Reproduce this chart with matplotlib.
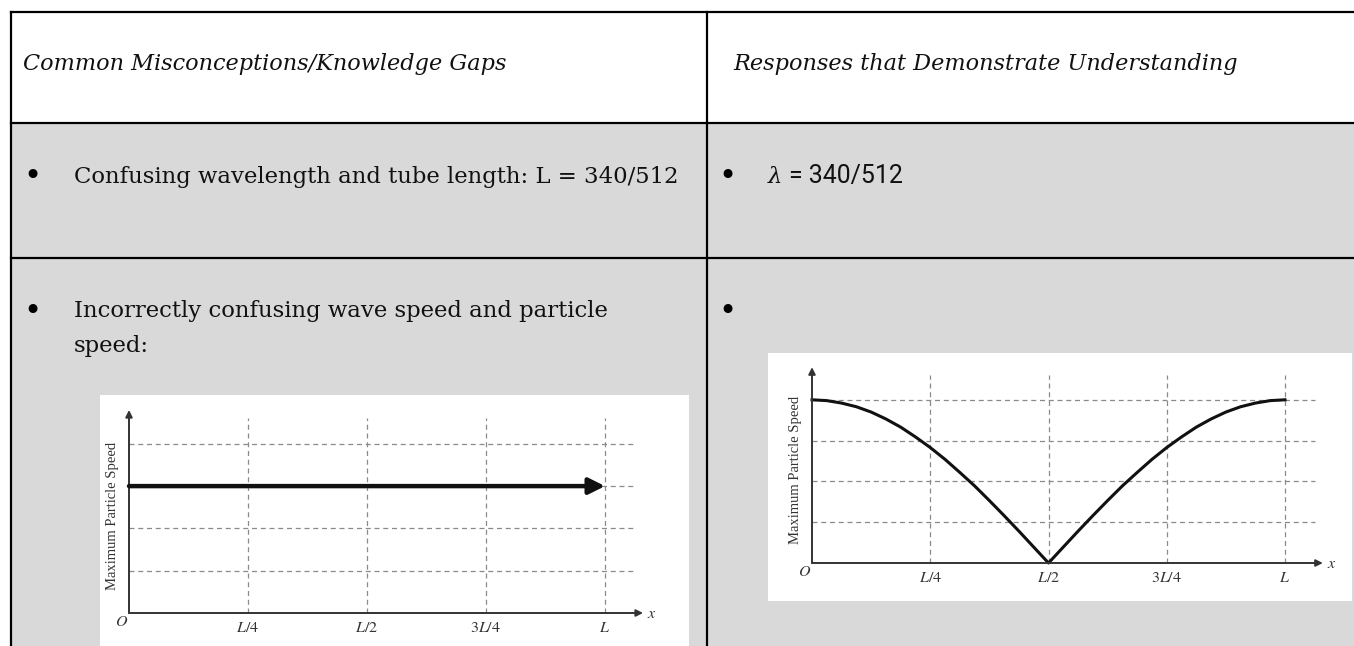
import matplotlib.pyplot as plt
from matplotlib.patches import Rectangle

plt.rcParams['mathtext.fontset'] = 'stix'

# table text
header_left = "Common Misconceptions/Knowledge Gaps"
header_right = "Responses that Demonstrate Understanding"
row2_left = "Confusing wavelength and tube length: L = 340/512"
row2_right = "= 340/512"
row3_left = ["Incorrectly confusing wave speed and particle", "speed:"]

# plot data (x in units of L, y in grid units)
grid_x = [0.25, 0.5, 0.75, 1.0]
grid_y = [1, 2, 3, 4]
tick_labels = ['$L/4$', '$L/2$', '$3L/4$', '$L$']
wrong_x = [0.0, 1.0]
wrong_y = [3.0, 3.0]
correct_x = [0, 0.03125, 0.0625, 0.09375, 0.125, 0.15625, 0.1875, 0.21875, 0.25,
             0.28125, 0.3125, 0.34375, 0.375, 0.40625, 0.4375, 0.46875, 0.5,
             0.53125, 0.5625, 0.59375, 0.625, 0.65625, 0.6875, 0.71875, 0.75,
             0.78125, 0.8125, 0.84375, 0.875, 0.90625, 0.9375, 0.96875, 1.0]
correct_y = [4.00, 3.98, 3.92, 3.83, 3.70, 3.53, 3.33, 3.09, 2.83,
             2.54, 2.22, 1.89, 1.53, 1.16, 0.78, 0.39, 0.00,
             0.39, 0.78, 1.16, 1.53, 1.89, 2.22, 2.54, 2.83,
             3.09, 3.33, 3.53, 3.70, 3.83, 3.92, 3.98, 4.00]

W, H = 1354, 646
fig = plt.figure(figsize=(13.54, 6.46), dpi=100)
fig.patch.set_facecolor('white')
renderer = fig.canvas.get_renderer()


def fx(x):
    return x / W


def fy(y):
    return 1 - y / H


def fit(t, target):
    w = t.get_window_extent(renderer).width
    t.set_fontsize(t.get_fontsize() * target / w)
    return t.get_fontsize()


# table background and lines
bg = Rectangle((fx(11), 0), fx(W) - fx(11), fy(123), transform=fig.transFigure,
               facecolor='#d9d9d9', edgecolor='none', zorder=-5)
fig.add_artist(bg)
lw = 1.6
for yy in [12, 123, 258]:
    fig.add_artist(plt.Line2D([fx(11), 1], [fy(yy), fy(yy)], color='black', lw=lw, zorder=5))
for xx in [11, 707]:
    fig.add_artist(plt.Line2D([fx(xx), fx(xx)], [0, fy(12)], color='black', lw=lw, zorder=5))

# header text
serif = 'DejaVu Serif'
t = fig.text(fx(23), fy(70), header_left, family=serif, style='italic', fontsize=15, color='#111')
hs = fit(t, 485)
t = fig.text(fx(733), fy(70), header_right, family=serif, style='italic', fontsize=hs, color='#111')

# row 2
t = fig.text(fx(74), fy(183), row2_left, family=serif, fontsize=15, color='#111')
bs = fit(t, 609)
for bx in [32, 727]:
    for by in [185, 320]:
        fig.text(fx(bx), fy(by), '•', family='DejaVu Sans', fontsize=bs * 1.35, ha='center', color='black')
fig.text(fx(768), fy(183), 'λ', family=serif, style='italic', fontsize=bs, color='#111')
t = fig.text(fx(789), fy(183), row2_right, family='Roboto', fontsize=bs, color='#111')
fit(t, 114)

# row 3
fig.text(fx(74), fy(317), row3_left[0], family=serif, fontsize=bs, color='#111')
fig.text(fx(74), fy(352), row3_left[1], family=serif, fontsize=bs, color='#111')


def panel(x0, x1, y0, y1, ox, oy, ux, uy):
    ax = fig.add_axes([fx(x0), fy(y1), fx(x1) - fx(x0), fy(y0) - fy(y1)])
    ax.set_zorder(3)
    ax.set_xlim((x0 - ox) / ux, (x1 - ox) / ux)
    ax.set_ylim((oy - y1) / uy, (oy - y0) / uy)
    ax.set_facecolor('white')
    for s in ax.spines.values():
        s.set_visible(False)
    ax.set_xticks([])
    ax.set_yticks([])
    gcol = '#8a8a8a'
    for gx in grid_x:
        ax.plot([gx, gx], [0, 4.6], ls=(0, (4, 3)), color=gcol, lw=0.9)
    for gy in grid_y:
        ax.plot([0, 1.063], [gy, gy], ls=(0, (4, 3)), color=gcol, lw=0.9)
    ax.annotate('', xy=(0, 4.8), xytext=(0, 0),
                arrowprops=dict(arrowstyle='-|>', lw=1.4, color='#333', mutation_scale=10, shrinkA=0, shrinkB=0))
    ax.annotate('', xy=(1.08, 0), xytext=(0, 0),
                arrowprops=dict(arrowstyle='-|>', lw=1.4, color='#333', mutation_scale=10, shrinkA=0, shrinkB=0))
    for gx, lab in zip(grid_x, tick_labels):
        ax.text(gx, -0.35, lab, ha='center', va='center', fontsize=11.5, color='#333')
    ax.text(-0.015, -0.21, '$O$', ha='center', va='center', fontsize=11.5, color='#333')
    ax.text(1.098, 0, '$x$', ha='center', va='center', fontsize=11.5, color='#333')
    ax.text(-0.035, 2.29, 'Maximum Particle Speed', rotation=90, ha='center', va='center',
            family='Liberation Serif', fontsize=10.5, color='#333')
    return ax


# left plot: wrong answer
axl = panel(100, 689, 395, 646, 129, 613, 476, 42.3)
axl.annotate('', xy=(wrong_x[1], wrong_y[1]), xytext=(wrong_x[0], wrong_y[0]),
             arrowprops=dict(arrowstyle='-|>', lw=3.2, color='#111', mutation_scale=24, shrinkA=0, shrinkB=0))

# right plot: correct answer
axr = panel(768, 1352, 353, 601, 812, 563, 473, 40.8)
axr.plot(correct_x, correct_y, color='#111', lw=2.2, solid_joinstyle='round')

fig.savefig('out.png', dpi=100, facecolor='white')
